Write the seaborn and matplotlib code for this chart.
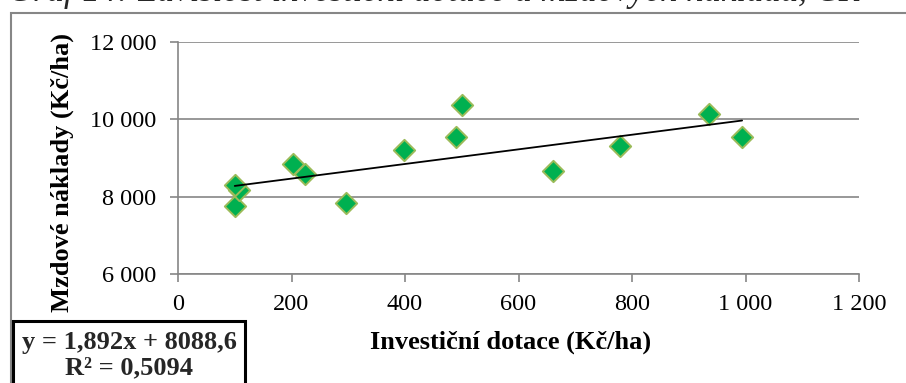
import matplotlib
matplotlib.use("Agg")
import matplotlib.pyplot as plt
import seaborn as sns
import pandas as pd
from matplotlib.patches import Rectangle
from matplotlib.ticker import FuncFormatter

# Investiční dotace vs. mzdové náklady (Kč/ha)
investicni_dotace = [100, 107, 101, 203, 223, 296, 399, 490, 500, 660, 778, 936, 994]
mzdove_naklady = [7746, 8172, 8302, 8845, 8586, 7828, 9207, 9535, 10371, 8672, 9310, 10130, 9551]

# Lineární trend
trend_smernice = 1.892
trend_absolutni = 8088.6
trend_r2 = 0.5094

x_ticks = [0, 200, 400, 600, 800, 1000, 1200]
y_ticks = [6000, 8000, 10000, 12000]

titulek = "Graf 14: Závislost investiční dotace a mzdových nákladů, ČR"
popis_x = "Investiční dotace (Kč/ha)"
popis_y = "Mzdové náklady (Kč/ha)"

sns.set_theme(style="white")
plt.rcParams["font.family"] = ["Liberation Serif", "DejaVu Serif"]

W, H = 906, 383
fig = plt.figure(figsize=(W / 100, H / 100), dpi=100)

def px(x, y):
    return x / W, 1 - y / H

GRAY = "#868686"

# chart frame
fig.patches.append(Rectangle(px(11, 450), 1000 / W, 437 / H, transform=fig.transFigure,
                             fill=False, edgecolor=GRAY, linewidth=1.5, zorder=0))

left, top, right, bottom = 178, 42, 859, 274
ax = fig.add_axes([left / W, 1 - bottom / H, (right - left) / W, (bottom - top) / H])
ax.set_facecolor("none")

df = pd.DataFrame({"dotace": investicni_dotace, "naklady": mzdove_naklady})
sns.scatterplot(data=df, x="dotace", y="naklady", ax=ax, marker="D", s=118,
                color="#00B050", edgecolor="#9BBB59", linewidth=1.4, zorder=3)

x0, x1 = min(investicni_dotace), max(investicni_dotace)
ax.plot([x0, x1], [trend_smernice * x0 + trend_absolutni, trend_smernice * x1 + trend_absolutni],
        color="black", linewidth=1.3, zorder=4)

ax.set_xlim(0, 1200)
ax.set_ylim(6000, 12000)
ax.set_xticks(x_ticks)
ax.set_yticks(y_ticks)
fmt = FuncFormatter(lambda v, p: f"{int(v):,}".replace(",", " "))
ax.xaxis.set_major_formatter(fmt)
ax.yaxis.set_major_formatter(fmt)

for s in ["top", "right"]:
    ax.spines[s].set_visible(False)
for s in ["left", "bottom"]:
    ax.spines[s].set_color(GRAY)
    ax.spines[s].set_linewidth(1.2)
ax.yaxis.grid(True, color=GRAY, linewidth=1.2)
ax.xaxis.grid(False)
ax.set_axisbelow(True)
ax.tick_params(axis="both", direction="out", length=5.5, width=1.2, color=GRAY,
               labelsize=17.5, labelcolor="black")
ax.tick_params(axis="y", pad=10, left=True)
ax.tick_params(axis="x", pad=9, bottom=True)

ax.set_xlabel(popis_x, fontsize=19, fontweight="bold", color="black")
ax.set_ylabel(popis_y, fontsize=19, fontweight="bold", color="black")
ax.xaxis.set_label_coords((511 - left) / (right - left), (bottom - 342) / (bottom - top))
ax.xaxis.label.set_va("center")
ax.yaxis.set_label_coords((62 - left) / (right - left), (bottom - 173) / (bottom - top))
ax.yaxis.label.set_va("center")

# trend equation box
fig.patches.append(Rectangle(px(13, 420), (245 - 13) / W, (420 - 321) / H, transform=fig.transFigure,
                             facecolor="white", edgecolor="black", linewidth=2.2, zorder=5))
rovnice = f"y = {trend_smernice:.3f}x + {trend_absolutni:.1f}".replace(".", ",")
r2_text = f"R² = {trend_r2:.4f}".replace(".", ",")
fig.text(*px(129, 342), rovnice, ha="center", va="center", fontsize=19, fontweight="bold", zorder=6)
fig.text(*px(129, 368), r2_text, ha="center", va="center", fontsize=19, fontweight="bold", zorder=6)

# heading above the chart frame
fig.text(*px(8, 1.0), titulek, ha="left", va="baseline", fontsize=25, style="italic")

fig.savefig("out.png", dpi=100)
